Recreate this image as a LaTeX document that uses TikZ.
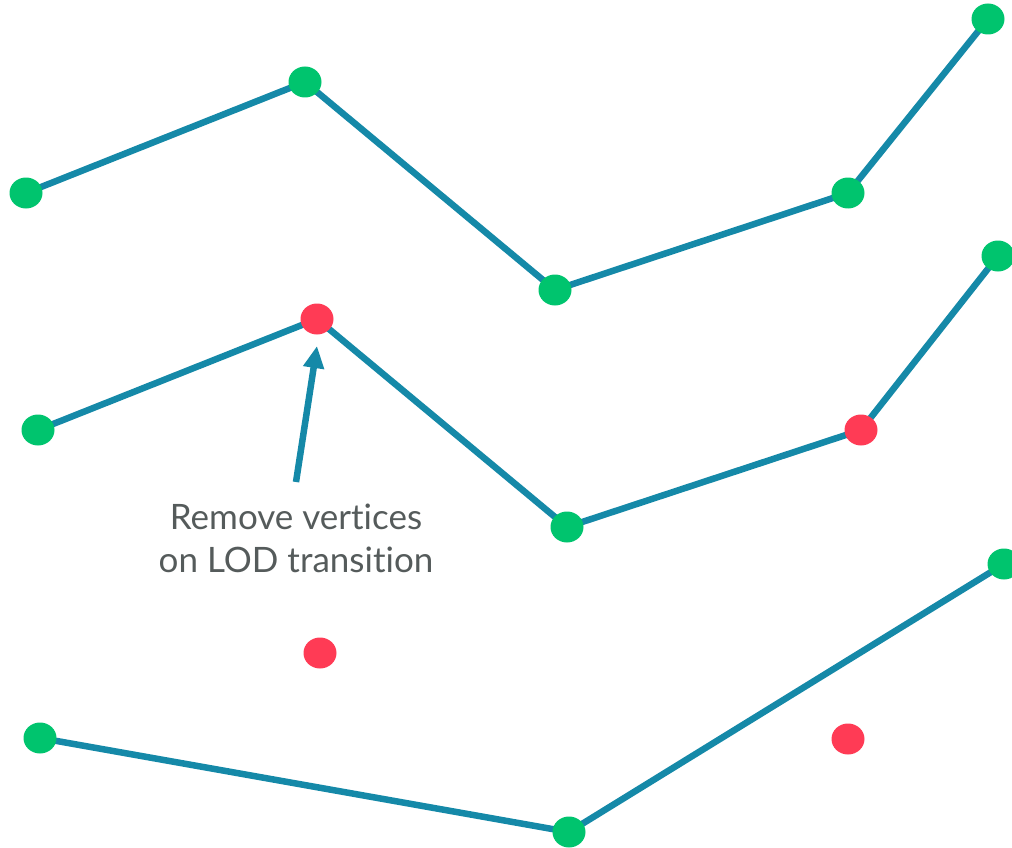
\documentclass[tikz,border=0pt]{standalone}
\usepackage{fontspec}
\setmainfont[Ligatures={NoCommon}]{Lato}
\usetikzlibrary{arrows.meta,shapes.geometric,backgrounds}
\definecolor{lteal}{HTML}{1589A8}
\definecolor{vgreen}{HTML}{00C46E}
\definecolor{vred}{HTML}{FF3B55}
\definecolor{txt}{HTML}{555B5B}
\begin{document}
\begin{tikzpicture}[x=1pt,y=-1pt,
  dot/.style={ellipse,minimum width=33pt,minimum height=31pt,inner sep=0pt,draw=none},
  keep/.style={dot,fill=vgreen},
  drop/.style={dot,fill=vred},
  edge/.style={draw=lteal,line width=6.5pt},
  lbl/.style={text=txt,font=\fontsize{35}{43}\selectfont,align=center}]
\useasboundingbox (0,0) rectangle (1012,848);
% row 1
\node[keep] (a1) at (26,193) {};
\node[keep] (a2) at (305,82) {};
\node[keep] (a3) at (555,290) {};
\node[keep] (a4) at (848,193) {};
\node[keep] (a5) at (988,19) {};
% row 2
\node[keep] (b1) at (38,430) {};
\node[drop] (b2) at (317,319) {};
\node[keep] (b3) at (567,527) {};
\node[drop] (b4) at (861,430) {};
\node[keep] (b5) at (998,256) {};
% row 3
\node[keep] (c1) at (40,738) {};
\node[drop] (c2) at (320,653) {};
\node[keep] (c3) at (569,832) {};
\node[drop] (c4) at (848,739) {};
\node[keep] (c5) at (1004,564) {};
\begin{scope}[on background layer]
\path[edge] (a1.center) -- (a2.center) -- (a3.center) -- (a4.center) -- (a5.center);
\path[edge] (b1.center) -- (b2.center) -- (b3.center) -- (b4.center) -- (b5.center);
\path[edge] (c1.center) -- (c3.center) -- (c5.center);
\end{scope}
\node[lbl] (t) at (296,538) {Remove vertices\\on LOD transition};
\coordinate (tail) at (296,482);
\coordinate (tip) at (317,346);
\draw[lteal,line width=6.5pt,-{Triangle[width=20pt,length=22pt]}] (tail) -- (tip);
\end{tikzpicture}
\end{document}
